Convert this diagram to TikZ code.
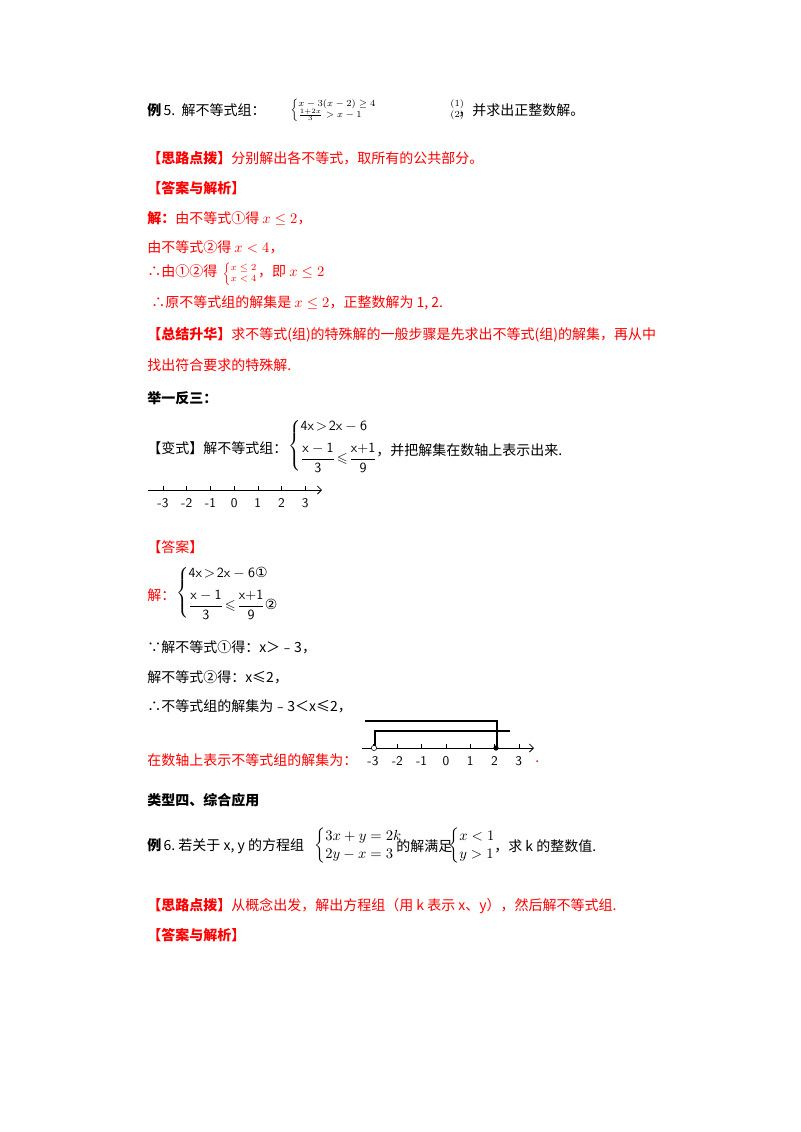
\documentclass[tikz,border=0pt]{standalone}
\usepackage{fontspec}
\usepackage{amsmath,amssymb}
\usetikzlibrary{arrows.meta}
\setmainfont{Liberation Serif}
\newfontfamily\cjk{Noto Sans CJK SC}
\newfontfamily\sym{DejaVu Sans}
\begin{document}
\begin{tikzpicture}[x=0.75pt,y=-0.75pt,
  t/.style={anchor=west,inner sep=0,font=\cjk\fontsize{10.5}{12}\selectfont},
  r/.style={t,text=red},
  ax/.style={line width=0.6pt,-{Straight Barb[length=3pt]}},
  nl/.style={font=\sffamily\fontsize{10}{12}\selectfont,inner sep=0}]
\useasboundingbox (0,0) rectangle (800,1132);
% Example 5
\node[t] (e5) at (147,110) {\textbf{例}\,5.\ \ 解不等式组：};
\node[t,font=\fontsize{7}{8}\selectfont] (s5) at (290,110) {$\left\{\begin{array}{@{}l@{}}x-3(x-2)\ge 4\\[-1pt] \frac{1+2x}{3}>x-1\end{array}\right.$\hspace{55pt}$\begin{array}{@{}l@{}}(1)\\ (2)\end{array}$};
\node[t] (e5b) at (458,110) {，并求出正整数解。};
\node[r] (a1) at (147,158) {\textbf{【思路点拨】}分别解出各不等式，取所有的公共部分。};
\node[r] (a2) at (147,188) {\textbf{【答案与解析】}};
\node[r] (a3) at (147,218) {\textbf{解：}由不等式①得 $x\le 2$，};
\node[r] (a4) at (147,247) {由不等式②得 $x<4$，};
\node[r] (a5) at (147,274) {∴由①②得 \,{\fontsize{7}{8}\selectfont$\left\{\begin{array}{@{}l@{}}x\le 2\\ x<4\end{array}\right.$}，即 $x\le 2$};
\node[r] (a6) at (151,303) {∴原不等式组的解集是 $x\le 2$，正整数解为 1, 2.};
\node[r] (a7) at (147,335) {\textbf{【总结升华】}求不等式(组)的特殊解的一般步骤是先求出不等式(组)的解集，再从中};
\node[r] (a8) at (147,365) {找出符合要求的特殊解.};
\node[t] (b1) at (147,398) {\textbf{举一反三：}};
% variant
\node[t] (v1) at (147,448) {【变式】解不等式组：};
\node[t,font=\sffamily\fontsize{10.5}{12}\selectfont] (v2) at (288,446) {$\left\{\begin{array}{@{}l@{}}\text{4x}\!>\!\text{2x}-\text{6}\\[6pt] \dfrac{\text{x}-\text{1}}{\text{3}}\!\leqslant\!\dfrac{\text{x+1}}{\text{9}}\end{array}\right.$};
\node[t] (v3) at (376,450) {，并把解集在数轴上表示出来.};
\coordinate (n1s) at (148,490); \coordinate (n1e) at (322,490);
\draw[ax] (n1s) -- (n1e);
\foreach \v [count=\i from 0] in {-3,-2,-1,0,1,2,3}{
  \draw[line width=0.4pt] (163+23.7*\i,486) -- (163+23.7*\i,490);
  \node[nl] (l\i) at (163+23.7*\i,503) {\v};}
\node[r] (c1) at (147,547) {【答案】};
\node[r] (c2) at (147,595) {解：};
\node[t,font=\sffamily\fontsize{10.5}{12}\selectfont] (c3) at (176,593) {$\left\{\begin{array}{@{}l@{}}\text{4x}\!>\!\text{2x}-\text{6}\text{\sym①}\\[6pt] \dfrac{\text{x}-\text{1}}{\text{3}}\!\leqslant\!\dfrac{\text{x+1}}{\text{9}}\text{\sym②}\end{array}\right.$};
\node[t] (c4) at (147,647) {∵解不等式①得：x＞﹣3，};
\node[t] (c5) at (147,677) {解不等式②得：x≤2，};
\node[t] (c6) at (147,706) {∴不等式组的解集为﹣3＜x≤2，};
\node[r] (c7) at (147,760) {在数轴上表示不等式组的解集为：};
\coordinate (n2s) at (362,748); \coordinate (n2e) at (534,748);
\draw[ax] (n2s) -- (n2e);
\foreach \v [count=\i from 0] in {-3,-2,-1,0,1,2,3}{
  \draw[line width=0.4pt] (373+24.3*\i,744) -- (373+24.3*\i,748);
  \node[nl] (m\i) at (373+24.3*\i,761) {\v};}
\draw[line width=0.8pt] (365,721) -- (497,721) -- (497,748);
\draw[line width=0.8pt] (375,748) -- (375,731) -- (510,731);
\node[circle,draw,fill=white,inner sep=1.4pt] (oc) at (374,748) {};
\node[circle,fill=black,inner sep=1.4pt] (fc) at (496,748) {};
\node[r] (c8) at (535,762) {.};
% type four
\node[t] (d1) at (147,800) {\textbf{类型四、综合应用}};
\node[t] (d2) at (147,846) {\textbf{例}\,6.\ 若关于 x, y 的方程组};
\node[t,font=\fontsize{11}{13}\selectfont] (d3) at (314,846) {$\left\{\begin{array}{@{}l@{}}3x+y=2k\\ 2y-x=3\end{array}\right.$};
\node[t] (d4) at (396,846) {的解满足};
\node[t,font=\fontsize{11}{13}\selectfont] (d5) at (448,846) {$\left\{\begin{array}{@{}l@{}}x<1\\ y>1\end{array}\right.$};
\node[t] (d6) at (494,846) {，求 k 的整数值.};
\node[r] (d7) at (147,906) {\textbf{【思路点拨】}从概念出发，解出方程组（用 k 表示 x、y），然后解不等式组.};
\node[r] (d8) at (147,935) {\textbf{【答案与解析】}};
\end{tikzpicture}
\end{document}
